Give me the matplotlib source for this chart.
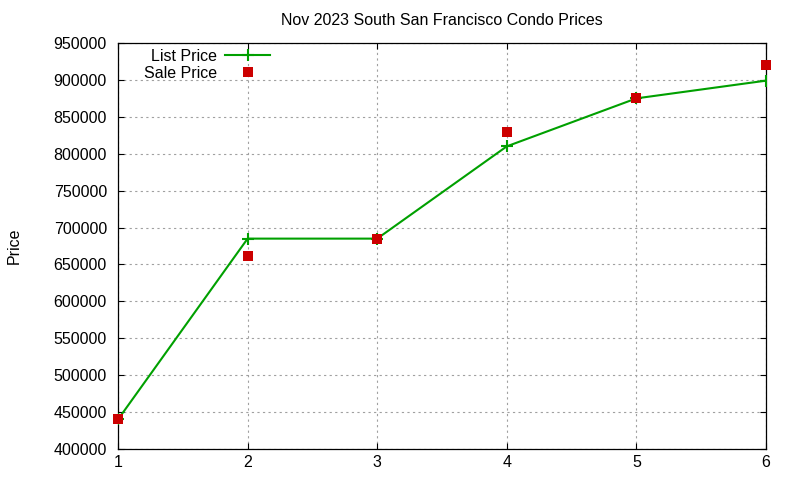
import matplotlib
matplotlib.use("Agg")
import matplotlib.pyplot as plt
from matplotlib.ticker import MultipleLocator

x_values = [1, 2, 3, 4, 5, 6]
list_price = [440000, 685000, 685000, 810000, 875000, 899000]
sale_price = [440000, 662000, 685000, 830000, 875000, 920000]
title = "Nov 2023 South San Francisco Condo Prices"
y_label = "Price"

FS = 11.5
plt.rcParams['font.family'] = ['Liberation Sans', 'DejaVu Sans']
plt.rcParams['font.size'] = FS

fig = plt.figure(figsize=(8, 4.8), dpi=100)
ax = fig.add_axes([118/800, 1-449/480, (766-118)/800, (449-43)/480])

ax.plot(x_values, list_price, color='#00a000', linewidth=1.5, marker='+',
        markersize=8, markeredgewidth=1.5, label='List Price', zorder=3)
ax.plot(x_values, sale_price, linestyle='none', color='#cc0000', marker='s',
        markersize=7, markeredgewidth=0, label='Sale Price', zorder=4, clip_on=False)

ax.set_xlim(1, 6)
ax.set_ylim(400000, 950000)
ax.xaxis.set_major_locator(MultipleLocator(1))
ax.yaxis.set_major_locator(MultipleLocator(50000))
ax.ticklabel_format(style='plain', axis='y', useOffset=False)

ax.grid(True, color='#a0a0a0', linestyle=(0, (2, 3)), linewidth=0.8)
ax.set_axisbelow(True)
ax.tick_params(direction='in', top=True, right=True, length=4, width=0.8,
               colors='black', labelsize=FS)
ax.tick_params(axis='y', pad=8)
ax.tick_params(axis='x', pad=4)
for s in ax.spines.values():
    s.set_linewidth(0.9)
    s.set_color('black')

ax.set_title(title, fontsize=FS, pad=13)
ax.set_ylabel(y_label, fontsize=FS, labelpad=23)

leg = ax.legend(loc='upper right', bbox_to_anchor=(270/800, 1-49/480),
                bbox_transform=fig.transFigure, frameon=False, markerfirst=False,
                handlelength=2.8, handletextpad=0.5, labelspacing=0.12,
                borderpad=0, borderaxespad=0, fontsize=FS)

fig.savefig("out.png", dpi=100)
